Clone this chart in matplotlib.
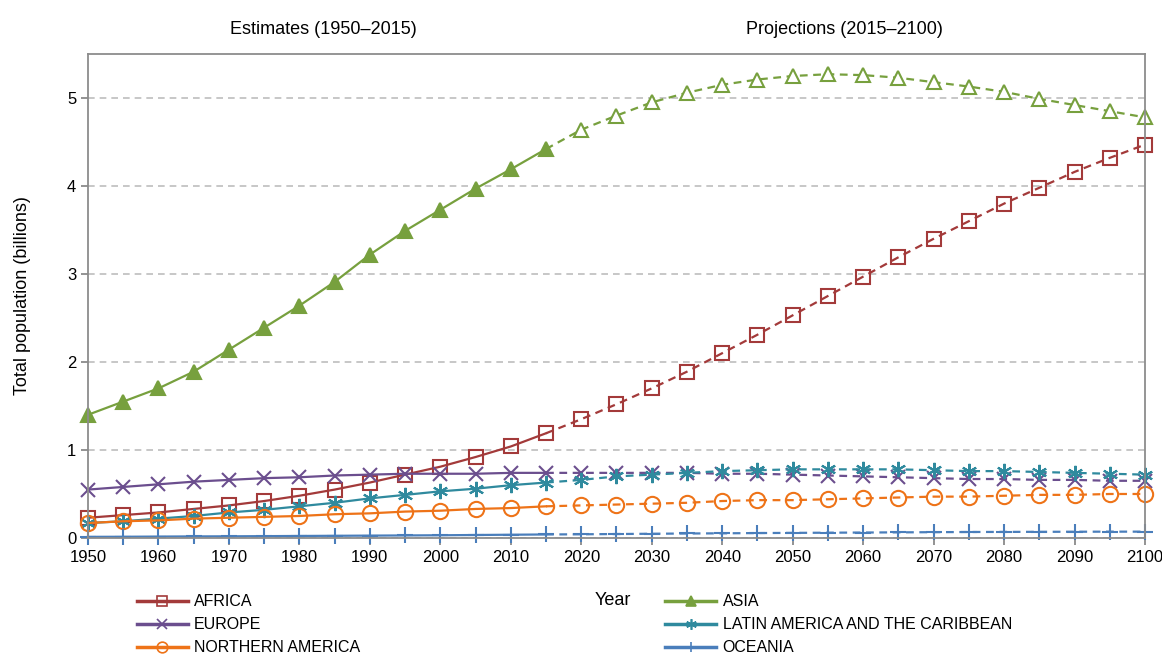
import matplotlib.pyplot as plt
from matplotlib.lines import Line2D

plt.rcParams['font.family'] = ['Liberation Sans', 'DejaVu Sans']

# Years
est_years = [1950, 1955, 1960, 1965, 1970, 1975, 1980, 1985, 1990, 1995, 2000, 2005, 2010, 2015]
proj_years = [2020, 2025, 2030, 2035, 2040, 2045, 2050, 2055, 2060, 2065, 2070, 2075, 2080,
              2085, 2090, 2095, 2100]

# Estimates 1950-2015 (billions)
africa_est = [0.23, 0.26, 0.29, 0.33, 0.37, 0.42, 0.48, 0.55, 0.63, 0.72, 0.81, 0.92, 1.04, 1.19]
asia_est = [1.40, 1.55, 1.70, 1.89, 2.14, 2.39, 2.64, 2.91, 3.22, 3.49, 3.73, 3.97, 4.19, 4.42]
europe_est = [0.55, 0.58, 0.61, 0.64, 0.66, 0.68, 0.69, 0.71, 0.72, 0.73, 0.73, 0.73, 0.74, 0.74]
latam_est = [0.17, 0.19, 0.22, 0.25, 0.29, 0.32, 0.36, 0.40, 0.45, 0.49, 0.53, 0.56, 0.60, 0.63]
namerica_est = [0.17, 0.19, 0.20, 0.22, 0.23, 0.24, 0.25, 0.27, 0.28, 0.30, 0.31, 0.33, 0.34, 0.36]
oceania_est = [0.013, 0.014, 0.016, 0.018, 0.019, 0.021, 0.023, 0.025, 0.027, 0.029, 0.031,
               0.034, 0.037, 0.040]

# Projections 2020-2100 (billions)
africa_proj = [1.35, 1.52, 1.70, 1.89, 2.10, 2.31, 2.53, 2.75, 2.97, 3.19, 3.40, 3.60, 3.80,
               3.98, 4.16, 4.32, 4.47]
asia_proj = [4.64, 4.80, 4.95, 5.06, 5.15, 5.21, 5.25, 5.27, 5.26, 5.23, 5.18, 5.13, 5.07,
             4.99, 4.92, 4.85, 4.78]
europe_proj = [0.74, 0.74, 0.74, 0.74, 0.73, 0.73, 0.72, 0.71, 0.70, 0.69, 0.68, 0.67, 0.67,
               0.66, 0.66, 0.65, 0.65]
latam_proj = [0.66, 0.70, 0.72, 0.74, 0.76, 0.77, 0.78, 0.78, 0.78, 0.78, 0.77, 0.76, 0.76,
              0.75, 0.74, 0.73, 0.72]
namerica_proj = [0.37, 0.38, 0.39, 0.40, 0.42, 0.43, 0.43, 0.44, 0.45, 0.46, 0.47, 0.47, 0.48,
                 0.49, 0.49, 0.50, 0.50]
oceania_proj = [0.042, 0.045, 0.048, 0.051, 0.053, 0.056, 0.058, 0.060, 0.062, 0.064, 0.066,
                0.068, 0.069, 0.070, 0.071, 0.072, 0.072]

series = [
    ('AFRICA', africa_est, africa_proj, '#A33A3A', 's', 'none', 'none', 10),
    ('ASIA', asia_est, asia_proj, '#77A03E', '^', None, 'white', 10),
    ('EUROPE', europe_est, europe_proj, '#6B4E8E', 'x', None, None, 10),
    ('LATIN AMERICA AND THE CARIBBEAN', latam_est, latam_proj, '#2F8A9E', (6, 2, 0), None, None, 11),
    ('NORTHERN AMERICA', namerica_est, namerica_proj, '#EE7318', 'o', 'none', 'none', 11),
    ('OCEANIA', oceania_est, oceania_proj, '#4A7EBB', '+', None, None, 11),
]

fig = plt.figure(figsize=(11.62, 6.56), dpi=100)
ax = fig.add_axes([0.0757, 0.1799, 0.9097, 0.7378])

handles = {}
for name, est, proj, color, marker, fc_est, fc_proj, ms in series:
    kw = dict(color=color, marker=marker, markersize=ms, markeredgewidth=1.5, lw=1.6,
              clip_on=False)
    if fc_est is not None:
        kw['markerfacecolor'] = fc_est
    h, = ax.plot(est_years, est, **kw)
    kw2 = dict(kw)
    if fc_proj is not None:
        kw2['markerfacecolor'] = fc_proj
    ax.plot([est_years[-1]] + proj_years, [est[-1]] + proj, ls=(0, (3.5, 2.5)),
            markevery=slice(1, None), **kw2)
    handles[name] = Line2D([], [], color=color, marker=marker, markersize=ms * 0.7,
                           markeredgewidth=1.2, lw=2.5,
                           markerfacecolor=kw.get('markerfacecolor', color))

ax.set_xlim(1950, 2100)
ax.set_ylim(0, 5.5)
ax.set_xticks(range(1950, 2101, 10))
ax.set_yticks(range(0, 6))
ax.tick_params(axis='both', labelsize=12, color='#808080', length=5, width=1.2)
ax.yaxis.grid(True, ls=(0, (4, 3)), color='#BEBEBE', lw=1.2)
ax.set_axisbelow(True)
for s in ax.spines.values():
    s.set_color('#8C8C8C')
    s.set_linewidth(1.3)

ax.set_ylabel('Total population (billions)', fontsize=13)
ax.yaxis.set_label_coords(-0.054, 0.5)
fig.text(0.278, 0.955, 'Estimates (1950\u20132015)', fontsize=13, ha='center', va='center')
fig.text(0.727, 0.955, 'Projections (2015\u20132100)', fontsize=13, ha='center', va='center')
fig.text(0.527, 0.085, 'Year', fontsize=13, ha='center', va='center')

order = ['AFRICA', 'EUROPE', 'NORTHERN AMERICA', 'ASIA', 'LATIN AMERICA AND THE CARIBBEAN', 'OCEANIA']
leg1 = fig.legend([handles[n] for n in order[:3]], order[:3], loc='upper left',
                  bbox_to_anchor=(0.112, 0.104), frameon=False, fontsize=11.5,
                  handlelength=3.2, labelspacing=0.5, borderaxespad=0, handletextpad=0.4)
leg2 = fig.legend([handles[n] for n in order[3:]], order[3:], loc='upper left',
                  bbox_to_anchor=(0.567, 0.104), frameon=False, fontsize=11.5,
                  handlelength=3.2, labelspacing=0.5, borderaxespad=0, handletextpad=0.4)

fig.savefig('out.png', dpi=100)
